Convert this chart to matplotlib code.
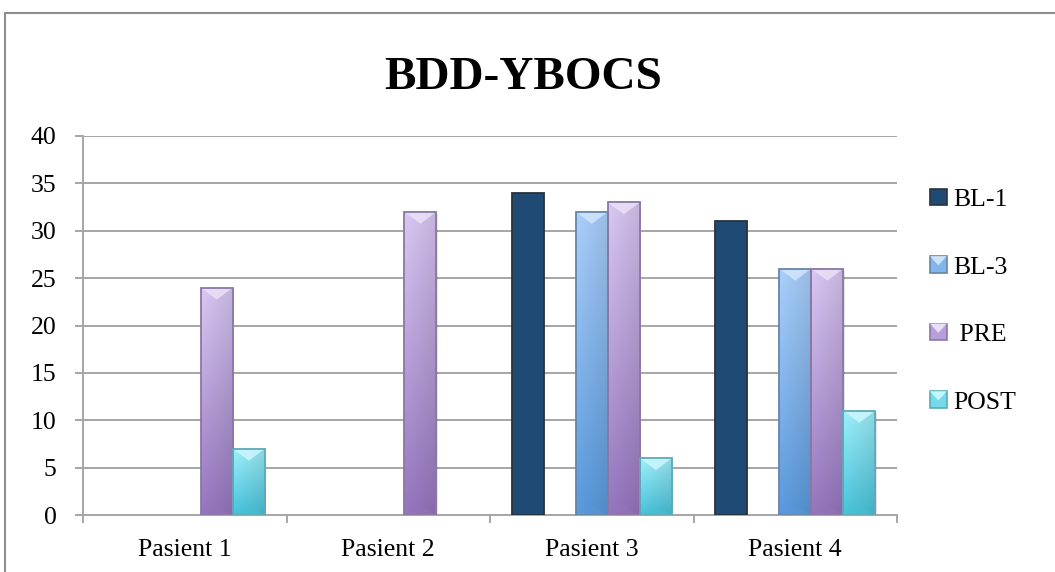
import numpy as np
import matplotlib
matplotlib.use("Agg")
import matplotlib.pyplot as plt
from matplotlib.patches import Rectangle, Polygon
from matplotlib.legend_handler import HandlerBase
from matplotlib.colors import to_rgb

# ---- data ----
categories = ["Pasient 1", "Pasient 2", "Pasient 3", "Pasient 4"]
series_names = ["BL-1", "BL-3", " PRE", "POST"]
bl1 = [np.nan, np.nan, 34, 31]
bl3 = [np.nan, np.nan, 32, 26]
pre = [24, 32, 33, 26]
post = [7, np.nan, 6, 11]
y_ticks = [0, 5, 10, 15, 20, 25, 30, 35, 40]

# ---- styling ----
serif = "Liberation Serif"
grid_col = "#a6a6a6"
# (top colour, bottom colour, edge colour, gradient fill?)
styles = [
    ("#1f4a73", "#1f4a73", "#2b323c", False),
    ("#abd0fc", "#5a9ade", "#6685a8", True),
    ("#d9c8f3", "#9676bf", "#8a78a3", True),
    ("#a0f0fc", "#48c3da", "#5eaab8", True),
]
# five slots per group; the second slot stays empty
slot_of = [0, 2, 3, 4]
n_slots = 5
gap = 1.35
bar_w = 1.0 / (n_slots + gap)

fig = plt.figure(figsize=(10.55, 5.72), dpi=100)
ax = fig.add_axes([83 / 1055, 1 - 515 / 572, (897 - 83) / 1055, (515 - 136) / 572])

x = np.arange(len(categories))
ymax = 40
px_per_unit = (515 - 136) / ymax


def gradient_img(top, bottom, n=64):
    t = np.linspace(0, 1, n)[:, None]
    c0 = np.array(to_rgb(top))
    c1 = np.array(to_rgb(bottom))
    col = c0[None, :] * (1 - t) + c1[None, :] * t
    # slight sideways shading: lighter left, darker right
    h = np.linspace(0, 1, 16)[None, :, None]
    shade = 1.0 - 0.10 * h
    img = col[:, None, :] * shade
    return np.clip(img, 0, 1)


def lighten(c, f):
    c = np.array(to_rgb(c))
    return tuple(c + (1 - c) * f)


data = [bl1, bl3, pre, post]
for vals, slot, (ctop, cbot, cedge, grad) in zip(data, slot_of, styles):
    xs = x + (slot - (n_slots - 1) / 2) * bar_w
    v = np.array(vals, dtype=float)
    bars = ax.bar(xs, v, width=bar_w, color=ctop if not grad else "none",
                  edgecolor=cedge, linewidth=1.3, zorder=3)
    for b in bars:
        h = b.get_height()
        if not np.isfinite(h) or h <= 0:
            continue
        x0, w = b.get_x(), b.get_width()
        # soft drop shadow
        ax.add_patch(Rectangle((x0 + 0.006, -0.25), w, h, facecolor="#000000",
                               alpha=0.10, lw=0, zorder=2))
        if grad:
            im = ax.imshow(gradient_img(ctop, cbot), extent=[x0, x0 + w, 0, h],
                           aspect="auto", origin="upper", zorder=2.5,
                           interpolation="bilinear")
            im.set_clip_path(b)
            # bevel highlight at the top of the bar
            dy = 12 / px_per_unit
            ax.add_patch(Polygon([(x0, h), (x0 + w, h), (x0 + w * 0.5, h - dy)],
                                 closed=True, facecolor=lighten(ctop, 0.5),
                                 alpha=0.8, lw=0, zorder=2.7))
            # faint darker bevel at the foot
            ax.add_patch(Polygon([(x0, 0), (x0 + w, 0), (x0 + w * 0.5, dy * 0.8)],
                                 closed=True, facecolor=cbot, alpha=0.35,
                                 lw=0, zorder=2.7))

ax.set_xlim(-0.5, len(categories) - 0.5)
ax.set_ylim(0, ymax)

# axes styling
for s in ("top", "right"):
    ax.spines[s].set_visible(False)
for s in ("left", "bottom"):
    ax.spines[s].set_color(grid_col)
    ax.spines[s].set_linewidth(1.4)
ax.set_yticks(y_ticks)
ax.set_yticklabels([str(t) for t in y_ticks], fontfamily=serif, fontsize=18.5)
ax.yaxis.grid(True, color=grid_col, linewidth=1.4, zorder=0)
ax.set_axisbelow(True)
ax.tick_params(axis="y", direction="out", length=6, width=1.4, color=grid_col, pad=13)

ax.set_xticks(x)
ax.set_xticklabels(categories, fontfamily=serif, fontsize=18.5)
ax.set_xticks(np.arange(-0.5, len(categories)), minor=True)
ax.tick_params(axis="x", which="major", length=0, pad=17)
ax.tick_params(axis="x", which="minor", direction="out", length=6, width=1.4, color=grid_col)

# title
fig.text(523 / 1055, 1 - 78 / 572, "BDD-YBOCS", ha="center", va="center",
         fontfamily=serif, fontweight="bold", fontsize=34)


# legend handles drawn as small bevelled squares
class BevelHandler(HandlerBase):
    def __init__(self, top, bottom, edge, grad):
        super().__init__()
        self.top, self.bottom, self.edge, self.grad = top, bottom, edge, grad

    def create_artists(self, legend, orig_handle, xdescent, ydescent, width,
                       height, fontsize, trans):
        s = min(width, height)
        x0, y0 = -xdescent, -ydescent + (height - s) / 2
        face = self.top if not self.grad else tuple(
            (np.array(to_rgb(self.top)) + np.array(to_rgb(self.bottom))) / 2)
        arts = [Rectangle((x0, y0), s, s, facecolor=face, edgecolor=self.edge,
                          lw=1.2, transform=trans)]
        if self.grad:
            arts.append(Polygon([(x0, y0 + s), (x0 + s, y0 + s), (x0 + s / 2, y0 + s * 0.45)],
                                closed=True, facecolor=lighten(self.top, 0.4),
                                lw=0, transform=trans))
        return arts


handles = [Rectangle((0, 0), 1, 1) for _ in series_names]
handler_map = {h: BevelHandler(*st) for h, st in zip(handles, styles)}
fig.legend(handles, series_names, handler_map=handler_map,
           loc="center left", bbox_to_anchor=(930 / 1055, 1 - 301 / 572),
           frameon=False, prop={"family": serif, "size": 18.5},
           handlelength=0.65, handleheight=0.65, handletextpad=0.25,
           labelspacing=1.75, borderpad=0, borderaxespad=0)

# outer chart frame
fig.add_artist(Rectangle((5 / 1055, -0.1), 1.2, 1 - 13 / 572 + 0.1,
                         transform=fig.transFigure, fill=False,
                         edgecolor="#8e8e8e", linewidth=1.5))

fig.savefig("out.png", dpi=100)
